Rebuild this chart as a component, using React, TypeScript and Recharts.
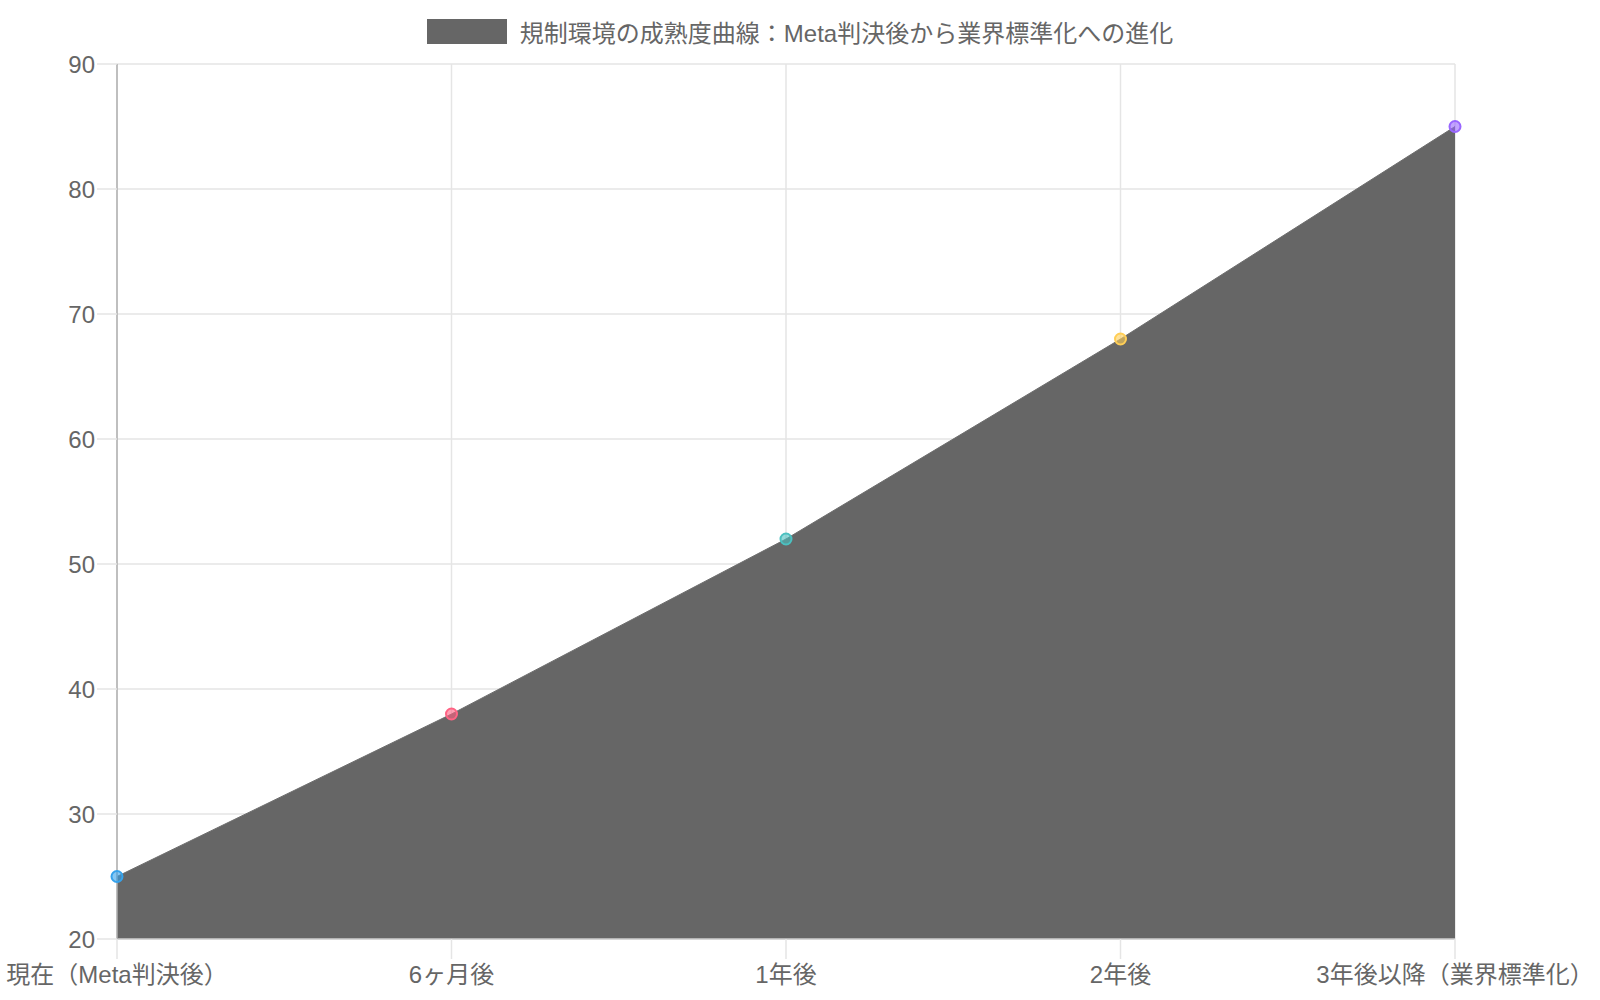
import { AreaChart, Area, XAxis, YAxis, CartesianGrid, Legend } from 'recharts';

const seriesName = '規制環境の成熟度曲線：Meta判決後から業界標準化への進化';

const categories = [
  '現在（Meta判決後）',
  '6ヶ月後',
  '1年後',
  '2年後',
  '3年後以降（業界標準化）',
];

const maturity = [25, 38, 52, 68, 85];

const yTicks = [20, 30, 40, 50, 60, 70, 80, 90];

const pointColors = [
  '54, 162, 235', // blue
  '255, 99, 132', // pink
  '75, 192, 192', // teal
  '255, 206, 86', // yellow
  '153, 102, 255', // purple
];

const FONT = '"Liberation Sans", Arial, "Noto Sans CJK JP", sans-serif';

const chartData = categories.map((label, i) => ({ label, value: maturity[i] }));

function PointDot(props: any) {
  const { cx, cy, index } = props;
  if (cx == null || cy == null) return null;
  const c = pointColors[index % pointColors.length];
  return (
    <circle
      key={`dot-${index}`}
      cx={cx}
      cy={cy}
      r={5.5}
      fill={`rgba(${c}, 0.6)`}
      stroke={`rgb(${c})`}
      strokeWidth={2}
    />
  );
}

function LegendBox() {
  return (
    <div
      style={{
        height: 64,
        display: 'flex',
        justifyContent: 'center',
        alignItems: 'flex-start',
        fontFamily: FONT,
      }}
    >
      <div style={{ display: 'flex', alignItems: 'center', marginTop: 19, height: 25 }}>
        <span style={{ display: 'inline-block', width: 80, height: 25, background: '#666' }} />
        <span style={{ marginLeft: 13, fontSize: 24, color: '#666', whiteSpace: 'nowrap' }}>
          {seriesName}
        </span>
      </div>
    </div>
  );
}

export default function App() {
  return (
    <div style={{ position: 'absolute', left: 0, top: 0, width: 1600, height: 1000, background: '#fff' }}>
      <style>{'body{margin:0}'}</style>
      <AreaChart
        width={1600}
        height={1000}
        data={chartData}
        margin={{ top: 0, right: 145, bottom: 0, left: 0 }}
        style={{ fontFamily: FONT }}
      >
        <CartesianGrid stroke="#e5e5e5" strokeWidth={1.5} />
        <Legend verticalAlign="top" align="center" content={() => <LegendBox />} wrapperStyle={{ left: 0, width: 1600 }} />
        <XAxis
          dataKey="label"
          interval={0}
          height={61}
          tickSize={20}
          tickMargin={7}
          axisLine={{ stroke: '#cfcfcf', strokeWidth: 1.5 }}
          tickLine={{ stroke: '#e5e5e5', strokeWidth: 1.5 }}
          tick={{ fill: '#666', fontSize: 24 }}
        />
        <YAxis
          domain={[20, 90]}
          ticks={yTicks}
          width={117}
          tickSize={20}
          tickMargin={2}
          axisLine={{ stroke: '#b0b0b0', strokeWidth: 1.5 }}
          tickLine={{ stroke: '#e5e5e5', strokeWidth: 1.5 }}
          tick={{ fill: '#666', fontSize: 24 }}
        />
        <Area
          type="linear"
          dataKey="value"
          name={seriesName}
          fill="#666"
          fillOpacity={1}
          stroke="#6e6e6e"
          strokeWidth={1}
          dot={PointDot}
          activeDot={false}
          isAnimationActive={false}
        />
      </AreaChart>
    </div>
  );
}
